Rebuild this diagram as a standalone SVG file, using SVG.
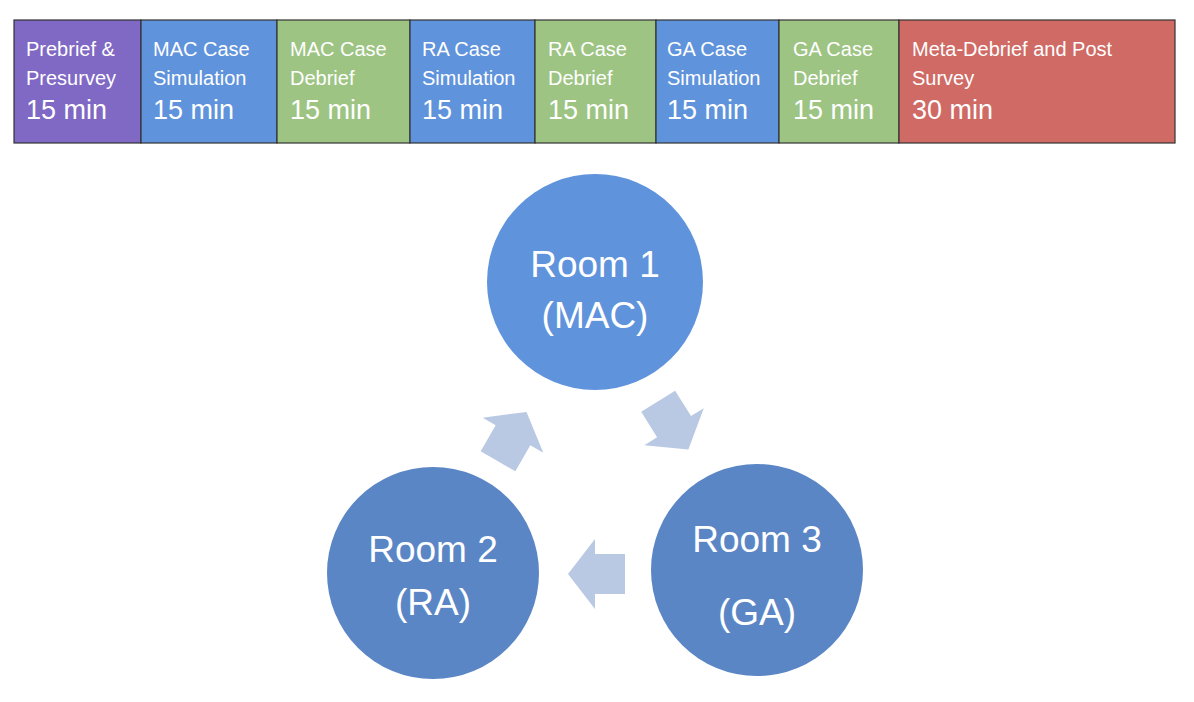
<svg xmlns="http://www.w3.org/2000/svg" width="1194" height="702" viewBox="0 0 1194 702">
<style>
.c{stroke:#333;stroke-width:1.2}
.s{font-family:"Liberation Sans",Arial,sans-serif;font-size:20px;fill:#fff}
.b{font-family:"Liberation Sans",Arial,sans-serif;font-size:27px;fill:#fff}
.r{font-family:"Liberation Sans",Arial,sans-serif;font-size:37px;fill:#fff;text-anchor:middle}
.a{fill:#b9c8e3}
</style>
<defs><polygon id="arr" points="29,0 2,-35 2,-20 -28,-20 -28,20 2,20 2,35"/></defs>
<rect width="1194" height="702" fill="#fff"/>
<g id="timeline">
<rect class="c" x="14" y="20" width="127" height="123" fill="#8068c5"/>
<rect class="c" x="141" y="20" width="136" height="123" fill="#5f93dc"/>
<rect class="c" x="277" y="20" width="133" height="123" fill="#9dc483"/>
<rect class="c" x="410" y="20" width="125" height="123" fill="#5f93dc"/>
<rect class="c" x="535" y="20" width="121" height="123" fill="#9dc483"/>
<rect class="c" x="656" y="20" width="123" height="123" fill="#5f93dc"/>
<rect class="c" x="779" y="20" width="120" height="123" fill="#9dc483"/>
<rect class="c" x="899" y="20" width="276" height="123" fill="#cf6a65"/>
<text class="s" x="26" y="56">Prebrief &amp;</text><text class="s" x="26" y="85">Presurvey</text><text class="b" x="26" y="119">15 min</text>
<text class="s" x="153" y="56">MAC Case</text><text class="s" x="153" y="85">Simulation</text><text class="b" x="153" y="119">15 min</text>
<text class="s" x="290" y="56">MAC Case</text><text class="s" x="290" y="85">Debrief</text><text class="b" x="290" y="119">15 min</text>
<text class="s" x="422" y="56">RA Case</text><text class="s" x="422" y="85">Simulation</text><text class="b" x="422" y="119">15 min</text>
<text class="s" x="548" y="56">RA Case</text><text class="s" x="548" y="85">Debrief</text><text class="b" x="548" y="119">15 min</text>
<text class="s" x="667" y="56">GA Case</text><text class="s" x="667" y="85">Simulation</text><text class="b" x="667" y="119">15 min</text>
<text class="s" x="793" y="56">GA Case</text><text class="s" x="793" y="85">Debrief</text><text class="b" x="793" y="119">15 min</text>
<text class="s" x="912" y="56">Meta-Debrief and Post</text><text class="s" x="912" y="85">Survey</text><text class="b" x="912" y="119">30 min</text>
</g>
<g id="room1"><circle cx="595" cy="282" r="108" fill="#5f93dc"/><text class="r" x="595" y="277">Room 1</text><text class="r" x="595" y="328">(MAC)</text></g>
<g id="room2"><circle cx="433" cy="573" r="106" fill="#5b86c6"/><text class="r" x="433" y="562">Room 2</text><text class="r" x="433" y="615">(RA)</text></g>
<g id="room3"><circle cx="757" cy="570" r="106" fill="#5b86c6"/><text class="r" x="757" y="552">Room 3</text><text class="r" x="757" y="625">(GA)</text></g>
<g id="connectors">
<use href="#arr" class="a" transform="translate(512,437) rotate(-60)"/>
<use href="#arr" class="a" transform="translate(673,425) rotate(58)"/>
<use href="#arr" class="a" transform="translate(597,574) rotate(180)"/>
</g>
</svg>
